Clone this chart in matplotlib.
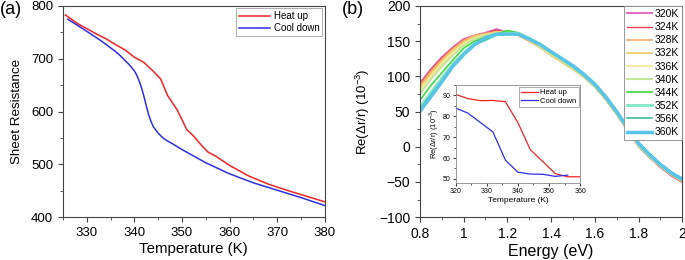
import matplotlib
matplotlib.use("Agg")
import matplotlib.pyplot as plt
from matplotlib.ticker import MultipleLocator, FixedLocator

plt.rcParams['font.family'] = ['Liberation Sans', 'DejaVu Sans']
plt.rcParams['mathtext.fontset'] = 'custom'
plt.rcParams['mathtext.rm'] = 'Liberation Sans'

# ---------------- Panel (a) data ----------------
heat_T = [325.5, 328, 330, 332, 334, 336, 338, 340, 342, 344, 345.5, 347, 349, 351, 352.5,
          354, 355.5, 357, 360, 364, 368, 372, 376, 380]
heat_R = [783, 767, 757, 747, 738, 727, 717, 703, 693, 676, 662, 630, 603, 566, 553,
          537, 523, 516, 498, 478, 463, 451, 440, 429]
cool_T = [326, 330, 333, 336, 337, 338, 339, 340, 340.5, 341, 341.5, 342, 342.5, 343,
          343.5, 344, 345, 346, 347, 348, 350, 355, 360, 365, 370, 375, 380]
cool_R = [775, 752, 734, 714, 706, 697, 688, 677, 669, 658, 645, 629, 611, 594,
          581, 571, 559, 550, 544, 539, 528, 503, 482, 465, 451, 437, 422]

# ---------------- Panel (b) data ----------------
energy = [0.80, 0.85, 0.90, 0.95, 1.00, 1.05, 1.10, 1.15, 1.20, 1.25, 1.30, 1.35, 1.40,
          1.45, 1.50, 1.55, 1.60, 1.65, 1.70, 1.75, 1.80, 1.85, 1.90, 1.95, 2.00]
temps = ['320K', '324K', '328K', '332K', '336K', '340K', '344K', '352K', '356K', '360K']
r320 = [90, 110, 127, 141, 153, 158, 162, 167, 163, 159, 152, 143, 132, 122, 112, 100, 86, 68, 47, 23, 1, -15, -29, -41, -50]
r324 = [89, 109, 126, 140, 152, 157, 161, 166, 162, 159, 151, 142, 131, 121, 111, 99, 85, 67, 46, 23, 1, -15, -29, -41, -50]
r328 = [87, 107, 124, 139, 151, 158, 161, 163, 163, 158, 150, 141, 130, 120, 110, 99, 85, 67, 46, 23, 1, -15, -28, -40, -49]
r332 = [84, 104, 122, 137, 149, 157, 160, 163, 164, 159, 151, 141, 130, 120, 110, 99, 85, 67, 46, 23, 1, -14, -28, -40, -49]
r336 = [80, 100, 118, 134, 147, 155, 159, 162, 164, 160, 152, 142, 131, 121, 111, 100, 86, 68, 47, 24, 2, -14, -28, -39, -48]
r340 = [75, 96, 114, 130, 144, 153, 158, 161, 165, 161, 153, 143, 132, 122, 112, 100, 86, 68, 47, 24, 2, -14, -27, -39, -48]
r344 = [66, 87, 105, 123, 140, 150, 156, 160, 165, 162, 154, 145, 134, 124, 113, 101, 87, 69, 48, 25, 3, -13, -27, -39, -48]
r352 = [56, 77, 97, 117, 133, 146, 152, 159, 161, 161, 154, 146, 135, 125, 114, 102, 88, 70, 49, 26, 4, -12, -26, -38, -47]
r356 = [53, 74, 94, 116, 132, 145, 152, 160, 160, 160, 154, 145, 135, 125, 114, 102, 88, 70, 49, 26, 4, -12, -26, -38, -47]
r360 = [50, 71, 92, 114, 131, 145, 155, 160, 160, 160, 153, 145, 135, 125, 115, 103, 89, 71, 50, 27, 5, -11, -25, -37, -46]
spectra = [r320, r324, r328, r332, r336, r340, r344, r352, r356, r360]
spec_colors = ['#E070C8', '#F04050', '#F8A868', '#F0C860', '#F0E890',
               '#C8E498', '#40D840', '#88E8C8', '#40B8A0', '#58C4E8']
spec_widths = [1.5, 1.0, 1.2, 1.2, 1.2, 1.5, 1.2, 2.2, 1.2, 2.5]

# ---------------- Inset data ----------------
in_heat_T = [320, 324, 328, 332, 336, 340, 344, 348, 352, 356, 360]
in_heat_v = [90.5, 88.5, 87.5, 87.6, 87.0, 77.0, 64.0, 58.3, 52.5, 51.0, 51.0]
in_cool_T = [320, 324, 328, 332, 336, 340, 344, 348, 352, 356]
in_cool_v = [84.0, 81.5, 77.0, 72.5, 59.0, 53.2, 52.3, 52.2, 51.2, 51.8]

RED = '#EE2424'
BLUE = '#2E2EE6'
SPINE = '#444444'

fig = plt.figure(figsize=(6.85, 2.6), dpi=100)

def style(ax, fs):
    for s in ax.spines.values():
        s.set_color(SPINE)
        s.set_linewidth(0.8)
    ax.tick_params(which='both', direction='out', color=SPINE, labelsize=fs,
                   top=False, right=False)
    ax.tick_params(which='major', length=3.5, width=0.8)
    ax.tick_params(which='minor', length=2, width=0.6)

# Panel (a)
axa = fig.add_axes([0.092, 0.165, 0.382, 0.812])
axa.plot(heat_T, heat_R, color=RED, lw=1.1, label='Heat up')
axa.plot(cool_T, cool_R, color=BLUE, lw=1.1, label='Cool down')
axa.set_xlim(325, 380)
axa.set_ylim(400, 800)
axa.xaxis.set_major_locator(MultipleLocator(10))
axa.xaxis.set_minor_locator(MultipleLocator(5))
axa.yaxis.set_major_locator(MultipleLocator(100))
axa.yaxis.set_minor_locator(MultipleLocator(50))
style(axa, 9.5)
axa.set_xlabel('Temperature (K)', fontsize=10.8, labelpad=2)
axa.set_ylabel('Sheet Resistance', fontsize=9.6, labelpad=6)
leg = axa.legend(loc='upper right', fontsize=7, frameon=True, fancybox=False,
                 handlelength=3.2, borderaxespad=0.25, handletextpad=0.4,
                 borderpad=0.3, labelspacing=0.2)
leg.get_frame().set_edgecolor('#888888')
leg.get_frame().set_linewidth(0.6)

# Panel (b)
axb = fig.add_axes([0.613, 0.165, 0.383, 0.812])
for vals, lab, c, w in zip(spectra, temps, spec_colors, spec_widths):
    axb.plot(energy, vals, color=c, lw=w, label=lab)
axb.set_xlim(0.8, 2.0)
axb.set_ylim(-100, 200)
axb.xaxis.set_major_locator(FixedLocator([0.8, 1.0, 1.2, 1.4, 1.6, 1.8, 2.0]))
axb.set_xticklabels(['0.8', '1', '1.2', '1.4', '1.6', '1.8', '2'])
axb.xaxis.set_minor_locator(MultipleLocator(0.1))
axb.yaxis.set_major_locator(MultipleLocator(50))
axb.yaxis.set_minor_locator(MultipleLocator(25))
style(axb, 10)
axb.set_xlabel('Energy (eV)', fontsize=11.5, labelpad=2)
axb.set_ylabel(r'Re($\Delta$r/r) (10$^{-3}$)', fontsize=9.5, labelpad=5)
legb = axb.legend(loc='upper right', fontsize=7.5, frameon=True, fancybox=False,
                  handlelength=2.4, borderaxespad=0.0, handletextpad=0.3,
                  borderpad=0.3, labelspacing=0.3, framealpha=1)
legb.get_frame().set_edgecolor('#888888')
legb.get_frame().set_linewidth(0.6)

# Inset
axi = fig.add_axes([0.665, 0.296, 0.182, 0.377])
axi.plot(in_heat_T, in_heat_v, color=RED, lw=0.9, label='Heat up')
axi.plot(in_cool_T, in_cool_v, color=BLUE, lw=0.9, label='Cool down')
axi.set_xlim(320, 360)
axi.set_ylim(48, 95)
axi.xaxis.set_major_locator(MultipleLocator(10))
axi.xaxis.set_minor_locator(MultipleLocator(5))
axi.yaxis.set_major_locator(MultipleLocator(10))
axi.yaxis.set_minor_locator(MultipleLocator(5))
style(axi, 5)
axi.tick_params(which='major', length=2, pad=1.5)
axi.tick_params(which='minor', length=1.2)
for s in axi.spines.values():
    s.set_color('#888888')
    s.set_linewidth(0.6)
axi.set_xlabel('Temperature (K)', fontsize=6, labelpad=1.5)
axi.set_ylabel(r'Re($\Delta$r/r) (10$^{-3}$)', fontsize=5.5, labelpad=1.5)
legi = axi.legend(loc='upper right', fontsize=5.5, frameon=True, fancybox=False,
                  handlelength=2.2, borderaxespad=0.2, handletextpad=0.3,
                  borderpad=0.3, labelspacing=0.2, framealpha=1)
legi.get_frame().set_edgecolor('#888888')
legi.get_frame().set_linewidth(0.5)

fig.text(0.0, 0.995, '(a)', fontsize=13, ha='left', va='top')
fig.text(0.499, 0.995, '(b)', fontsize=13, ha='left', va='top')

fig.savefig('out.png', dpi=100)
